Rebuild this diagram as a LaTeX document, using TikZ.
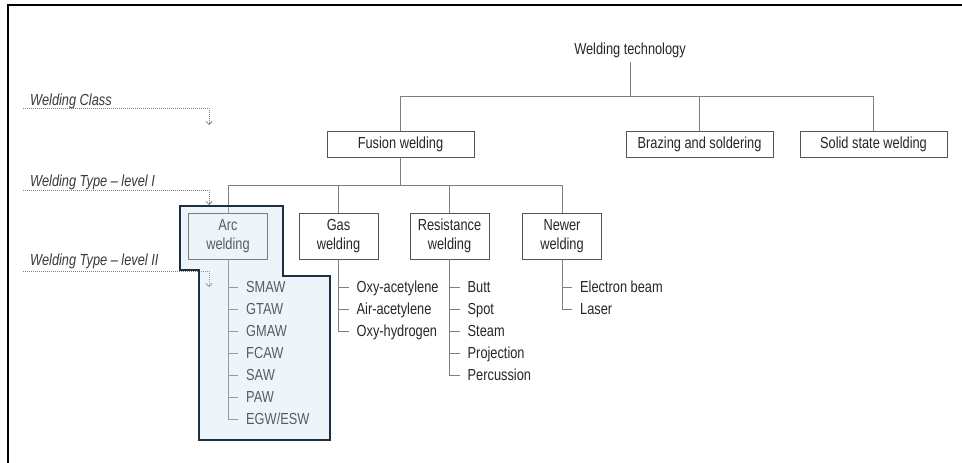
\documentclass[tikz,border=0pt]{standalone}
\usepackage{fontspec}
\setmainfont{Liberation Sans}[FakeStretch=0.8]
\usetikzlibrary{arrows.meta}
\definecolor{linegrey}{HTML}{7F7F7F}
\definecolor{boxgrey}{HTML}{555555}
\definecolor{txt}{HTML}{262626}
\definecolor{lbl}{HTML}{383838}
\definecolor{veil}{RGB}{198,222,238}
\definecolor{veiledge}{HTML}{1E2F40}

\begin{document}
\begin{tikzpicture}[x=1pt,y=-1pt,
  font=\fontsize{16}{19.5}\selectfont, text=txt,
  classbox/.style={draw=boxgrey, line width=0.9pt, fill=white,
    minimum width=147pt, minimum height=26pt, inner sep=0pt},
  typebox/.style={draw=boxgrey, line width=0.9pt, fill=white,
    minimum width=79pt, minimum height=46pt, inner sep=0pt, align=center},
  item/.style={anchor=west, inner xsep=8pt, inner ysep=0pt,
    text height=11.2pt, text depth=0pt},
  tree/.style={draw=linegrey, line width=0.9pt},
  guide/.style={draw=linegrey, line width=0.8pt, dash pattern=on 1pt off 1pt,
    -{Straight Barb[length=3pt,width=6pt]}},
  tier/.style={anchor=west, inner sep=0pt, text height=11.2pt, text depth=0pt,
    text=lbl, font=\fontsize{16}{19.5}\selectfont\itshape}
]
\useasboundingbox (0,0) rectangle (962,463);

% outer frame (top and left edges)
\draw[line width=2pt, line join=miter] (8,463) -- (8,5) -- (962,5);

% root and welding classes
\node[minimum height=24pt, inner sep=0pt] (tech) at (630,50) {Welding technology};
\node[classbox] (fusion) at (400.5,144) {Fusion welding};
\node[classbox] (braze)  at (699.5,144) {Brazing and soldering};
\node[classbox] (solid)  at (873.5,144) {Solid state welding};

% welding types, level I
\node[typebox] (arc)    at (228,236)   {Arc\\welding};
\node[typebox] (gas)    at (338.5,236) {Gas\\welding};
\node[typebox] (resist) at (449.5,236) {Resistance\\welding};
\node[typebox] (newer)  at (562,236)   {Newer\\welding};

% tree connectors
\coordinate (bar1) at (0,96.5);
\foreach \n in {fusion,braze,solid}
  \draw[tree] (\n.north) -- (\n.north |- bar1) -| (tech.south);
\coordinate (bar2) at (0,185);
\foreach \n in {arc,gas,resist,newer}
  \draw[tree] (\n.north) -- (\n.north |- bar2) -| (fusion.south);

% welding types, level II
\foreach \t [count=\i from 0] in {SMAW,GTAW,GMAW,FCAW,SAW,PAW,EGW/ESW} {
  \node[item] (arc-\i) at (238,287+22*\i) {\t};
  \draw[tree] (arc.south) |- (arc-\i.west);
}
\foreach \t [count=\i from 0] in {Oxy-acetylene,Air-acetylene,Oxy-hydrogen} {
  \node[item] (gas-\i) at (348.5,287+22*\i) {\t};
  \draw[tree] (gas.south) |- (gas-\i.west);
}
\foreach \t [count=\i from 0] in {Butt,Spot,Steam,Projection,Percussion} {
  \node[item] (resist-\i) at (459.5,287+22*\i) {\t};
  \draw[tree] (resist.south) |- (resist-\i.west);
}
\foreach \t [count=\i from 0] in {Electron beam,Laser} {
  \node[item] (newer-\i) at (572,287+22*\i) {\t};
  \draw[tree] (newer.south) |- (newer-\i.west);
}

% hierarchy level captions with their guide arrows
\node[tier] (lclass) at (30,100) {Welding Class};
\node[tier] (ltype1) at (30,181) {Welding Type – level I};
\node[tier] (ltype2) at (30,260) {Welding Type – level II};
\coordinate (g1s) at (23,108); \coordinate (g1e) at (209,125);
\coordinate (g2s) at (23,190); \coordinate (g2e) at (209,205);
\coordinate (g3s) at (23,271); \coordinate (g3e) at (209,287);
\draw[guide] (g1s) -| (g1e);
\draw[guide] (g2s) -| (g2e);
\draw[guide] (g3s) -| (g3e);

% translucent highlight over the arc welding branch
\path[fill=veil, fill opacity=0.3, draw=veiledge, draw opacity=1, line width=1.3pt]
  (180,206) -- (283,206) -- (283,276) -- (330,276) -- (330,440)
  -- (199,440) -- (199,270) -- (180,270) -- cycle;
\end{tikzpicture}
\end{document}
